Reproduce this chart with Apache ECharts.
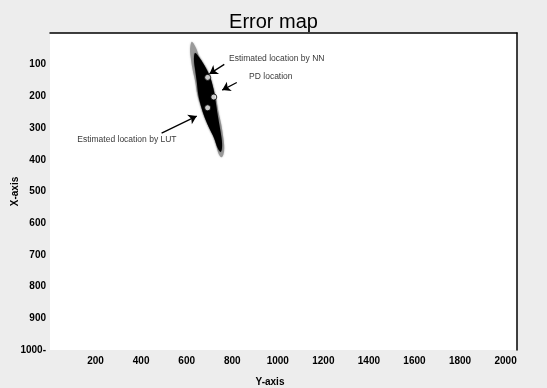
<!DOCTYPE html>
<html>
<head>
<meta charset="utf-8">
<script src="https://cdn.jsdelivr.net/npm/echarts@6/dist/echarts.min.js"></script>
<style>
html,body{margin:0;padding:0;background:#ededed;}
#main{width:547px;height:388px;}
</style>
</head>
<body>
<div id="main"></div>
<script>
// ---- data (x = "Y-axis", y = "X-axis") ----
var yTickLabels = {100:'100',200:'200',300:'300',400:'400',500:'500',600:'600',700:'700',800:'800',900:'900',1000:'1000-'};
var xTickLabels = {200:'200',400:'400',600:'600',800:'800',1000:'1000',1200:'1200',1400:'1400',1600:'1600',1800:'1800',2000:'2000'};

// outline of the gray fringe of the error cloud
var cloudOuter = [[622,28],[641,47],[655,74],[676,100],[699,131],[717,174],[729,205],[739,247],[752,289],[761,331],[765,363],[761,384],[752,392],[739,379],[729,352],[717,326],[699,300],[680,268],[662,231],[647,195],[637,152],[626,116],[618,79],[615,53]];
// outline of the dense black core of the error cloud
var cloudCore = [[637,63],[659,81],[680,105],[702,137],[717,174],[727,215],[736,258],[746,300],[754,337],[755,363],[749,375],[736,363],[720,331],[699,300],[680,268],[663,231],[651,195],[644,152],[637,116],[632,84]];

var nnPoint  = [692,140];
var pdPoint  = [719,202];
var lutPoint = [692,236];

var arrowNN  = [[765,99],[700,129]];
var arrowPD  = [[820,156],[756,180]];
var arrowLUT = [[490,316],[644,262]];

var labelNN  = [786,80];
var labelPD  = [874,138];
var labelLUT = [120,338];

var chart = echarts.init(document.getElementById('main'), null, {renderer:'canvas'});

function polygonSeries(pts, fill, blur, shadow){
  return {
    type:'custom', xAxisIndex:0, yAxisIndex:0, silent:true, clip:true,
    data:[0],
    renderItem:function(params, api){
      var p = pts.map(function(d){ return api.coord(d); });
      return {type:'polygon', shape:{points:p, smooth:0.35},
              style:{fill:fill, shadowBlur:blur, shadowColor:shadow}};
    },
    z:2
  };
}

var axisLabelFont = {fontFamily:'Liberation Sans', fontSize:10, fontWeight:'bold', color:'#000'};

var option = {
  backgroundColor:'#ededed',
  animation:false,
  title:{
    text:'Error map', left:'center', top:7,
    textStyle:{fontFamily:'Liberation Sans', fontSize:20, fontWeight:'normal', color:'#000'}
  },
  grid:{left:50, right:30, top:33, bottom:38, show:true, backgroundColor:'#ffffff', borderWidth:0,
        outerBoundsMode:'none', containLabel:false},
  xAxis:[{
    type:'value', min:0, max:2050, interval:200, position:'bottom',
    name:'Y-axis', nameLocation:'middle', nameGap:27, nameMoveOverlap:false,
    nameTextStyle:{fontFamily:'Liberation Sans', fontSize:10, fontWeight:'bold', color:'#000', padding:[0,27,0,0]},
    axisLine:{show:false, onZero:false}, axisTick:{show:false}, splitLine:{show:false},
    axisLabel:Object.assign({margin:6, showMinLabel:false, showMaxLabel:false,
      formatter:function(v){ return xTickLabels[v] || ''; }}, axisLabelFont)
  },{
    type:'value', min:0, max:2050, position:'top',
    axisLine:{show:true, onZero:false, lineStyle:{color:'#000', width:1.5}},
    axisTick:{show:false}, axisLabel:{show:false}, splitLine:{show:false}
  }],
  yAxis:[{
    type:'value', min:0, max:1000, interval:100, inverse:true, position:'left',
    name:'X-axis', nameLocation:'middle', nameGap:30, nameRotate:90, nameMoveOverlap:false,
    nameTextStyle:{fontFamily:'Liberation Sans', fontSize:10, fontWeight:'bold', color:'#000'},
    axisLine:{show:false, onZero:false}, axisTick:{show:false}, splitLine:{show:false},
    axisLabel:Object.assign({margin:4, showMinLabel:false,
      formatter:function(v){ return yTickLabels[v] || ''; }}, axisLabelFont)
  },{
    type:'value', min:0, max:1000, inverse:true, position:'right',
    axisLine:{show:true, onZero:false, lineStyle:{color:'#000', width:1.5}},
    axisTick:{show:false}, axisLabel:{show:false}, splitLine:{show:false}
  }],
  series:[
    polygonSeries(cloudOuter, '#999999', 2, '#bbbbbb'),
    polygonSeries(cloudCore, '#000000', 2, '#444444'),
    {
      type:'scatter', xAxisIndex:0, yAxisIndex:0, silent:true, z:5,
      symbol:'circle', symbolSize:6,
      itemStyle:{color:'#ffffff', borderColor:'#000', borderWidth:1},
      data:[nnPoint, pdPoint, lutPoint],
      markLine:{
        silent:true, symbol:['none','arrow'], symbolSize:8, precision:0,
        label:{show:false},
        lineStyle:{color:'#000', width:1.3, type:'solid'},
        data:[
          [{coord:arrowNN[0]},{coord:arrowNN[1]}],
          [{coord:arrowPD[0]},{coord:arrowPD[1]}],
          [{coord:arrowLUT[0]},{coord:arrowLUT[1]}]
        ]
      }
    },
    {
      type:'scatter', xAxisIndex:0, yAxisIndex:0, silent:true, symbolSize:0, z:6,
      label:{show:true, position:'right', distance:0, formatter:'{b}',
        fontFamily:'Liberation Sans', fontSize:8.5, color:'#000'},
      data:[
        {name:'Estimated location by NN', value:labelNN},
        {name:'PD location', value:labelPD},
        {name:'Estimated location by LUT', value:labelLUT}
      ]
    }
  ]
};
chart.setOption(option);
</script>
</body>
</html>
